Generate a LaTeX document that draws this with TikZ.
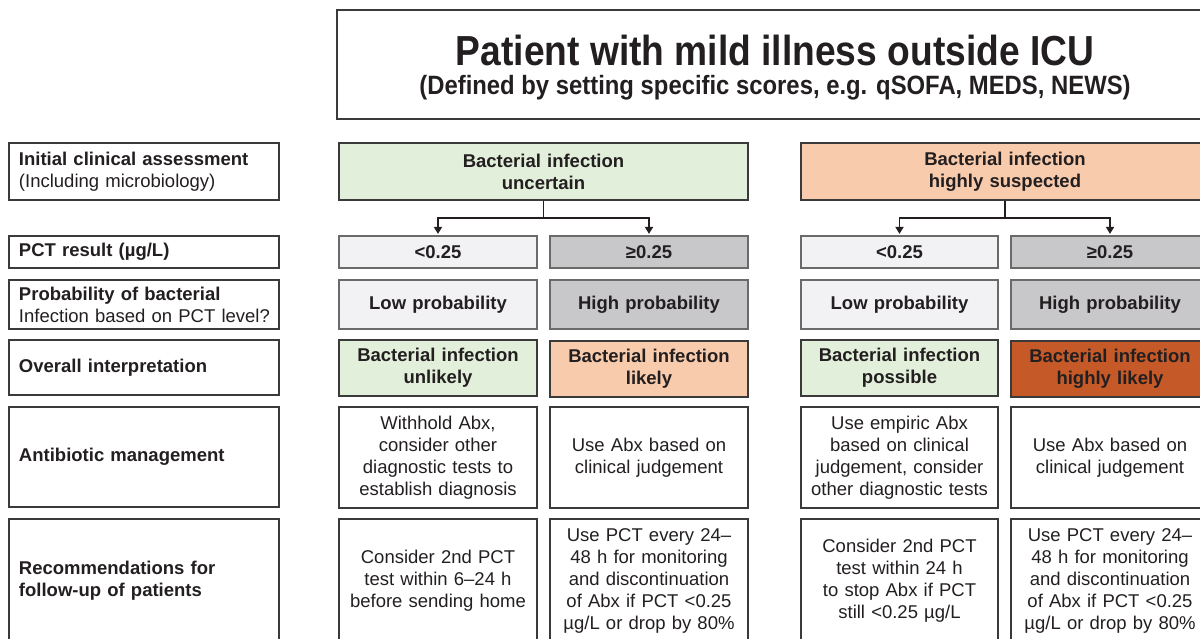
\documentclass[tikz,border=0pt]{standalone}
\usepackage{fontspec}
\setmainfont{Liberation Sans}
\usetikzlibrary{arrows.meta}
\definecolor{txt}{HTML}{231F20}
\definecolor{bord}{HTML}{3A3A3A}
\definecolor{gbord}{HTML}{6A6A6A}
\definecolor{gfill}{HTML}{E2EFDA}
\definecolor{ofill}{HTML}{F8CBAD}
\definecolor{dofill}{HTML}{C55A28}
\definecolor{lgfill}{HTML}{F2F2F4}
\definecolor{dgfill}{HTML}{C8C8CA}
\tikzset{
  box/.style={draw=bord, line width=1.2pt, inner sep=0pt, text=txt,
    font=\fontsize{18.5}{22}\selectfont, align=center},
  lab/.style={box, minimum width=270pt, text width=250pt, align=left},
  col/.style={box, minimum width=198pt, text width=190pt},
  wide/.style={box, minimum width=409pt, text width=380pt, minimum height=57pt, font=\fontsize{18.5}{22}\selectfont\bfseries},
  pct/.style={col, draw=gbord, minimum height=32pt, font=\fontsize{18.5}{22}\selectfont\bfseries},
  prob/.style={col, draw=gbord, minimum height=49pt, font=\fontsize{18.5}{22}\selectfont\bfseries},
  interp/.style={col, minimum height=56pt, font=\fontsize{18.5}{22}\selectfont\bfseries},
  abx/.style={col, minimum height=101pt},
  rec/.style={col, minimum height=124pt},
  conn/.style={draw=txt, line width=1.8pt, -{Triangle[length=7pt,width=8pt]}, shorten >=1.5pt},
}
\begin{document}
\begin{tikzpicture}[x=1pt, y=-1pt]
\useasboundingbox (0,0) rectangle (1200,638);
\clip (0,0) rectangle (1200,638);
% title
\node[box, minimum width=874pt, minimum height=109pt] (title) at (774,64.5) {};
\node[anchor=base, inner sep=0pt, text=txt] (t1) at (775,65.5)
  {\scalebox{0.885}[1]{\fontsize{42}{44}\selectfont\bfseries Patient with mild illness outside ICU}};
\node[anchor=base, inner sep=0pt, text=txt] (t2) at (775,94)
  {\scalebox{0.9}[1]{\fontsize{26.5}{28}\selectfont\bfseries (Defined by setting specific scores, e.g. qSOFA, MEDS, NEWS)}};
% left labels
\node[lab, minimum height=57pt] (l1) at (144,171.5) {\textbf{Initial clinical assessment}\\(Including microbiology)};
\node[lab, minimum height=32pt] (l2) at (144,252) {\textbf{PCT result (µg/L)}};
\node[lab, minimum height=49pt] (l3) at (144,304.5) {\textbf{Probability of bacterial}\\\mbox{Infection based on PCT level?}};
\node[lab, minimum height=55pt] (l4) at (144,367.5) {\textbf{Overall interpretation}};
\node[lab, minimum height=100pt] (l5) at (144,457) {\textbf{Antibiotic management}};
\node[lab, minimum height=124pt] (l6) at (144,581) {\textbf{Recommendations for}\\\textbf{follow-up of patients}};
% top boxes
\node[wide, fill=gfill] (ta) at (543.5,171.5) {Bacterial infection\\uncertain};
\node[wide, fill=ofill, minimum width=408pt] (tb) at (1005,171.5) {Bacterial infection\\highly suspected};
% PCT row
\node[pct, fill=lgfill] (p1) at (438,252) {<0.25};
\node[pct, fill=dgfill] (p2) at (649,252) {≥0.25};
\node[pct, fill=lgfill, minimum width=197pt] (p3) at (899.5,252) {<0.25};
\node[pct, fill=dgfill] (p4) at (1110,252) {≥0.25};
% probability row
\node[prob, fill=lgfill] (q1) at (438,304.5) {Low probability};
\node[prob, fill=dgfill] (q2) at (649,304.5) {High probability};
\node[prob, fill=lgfill, minimum width=197pt] (q3) at (899.5,304.5) {Low probability};
\node[prob, fill=dgfill] (q4) at (1110,304.5) {High probability};
% interpretation row
\node[interp, fill=gfill] (i1) at (438,368) {Bacterial infection\\unlikely};
\node[interp, fill=ofill] (i2) at (649,369) {Bacterial infection\\likely};
\node[interp, fill=gfill, minimum width=197pt] (i3) at (899.5,368) {Bacterial infection\\possible};
\node[interp, fill=dofill] (i4) at (1110,369) {Bacterial infection\\highly likely};
% antibiotic row
\node[abx] (a1) at (438,457.5) {Withhold Abx,\\consider other\\diagnostic tests to\\establish diagnosis};
\node[abx] (a2) at (649,457.5) {Use Abx based on\\clinical judgement};
\node[abx, minimum width=197pt] (a3) at (899.5,457.5) {Use empiric Abx\\based on clinical\\judgement, consider\\other diagnostic tests};
\node[abx] (a4) at (1110,457.5) {Use Abx based on\\clinical judgement};
% recommendations row
\node[rec] (r1) at (438,581) {Consider 2nd PCT\\test within 6–24 h\\before sending home};
\node[rec] (r2) at (649,581) {Use PCT every 24–\\48 h for monitoring\\and discontinuation\\of Abx if PCT <0.25\\µg/L or drop by 80\%};
\node[rec, minimum width=197pt] (r3) at (899.5,581) {Consider 2nd PCT\\test within 24 h\\to stop Abx if PCT\\still <0.25 µg/L};
\node[rec] (r4) at (1110,581) {Use PCT every 24–\\48 h for monitoring\\and discontinuation\\of Abx if PCT <0.25\\µg/L or drop by 80\%};
% connectors
\draw[conn] (ta.south) -- ++(0,17) -| (p1.north);
\draw[conn] (ta.south) -- ++(0,17) -| (p2.north);
\draw[conn] (tb.south) -- ++(0,17) -| (p3.north);
\draw[conn] (tb.south) -- ++(0,17) -| (p4.north);
\end{tikzpicture}
\end{document}
